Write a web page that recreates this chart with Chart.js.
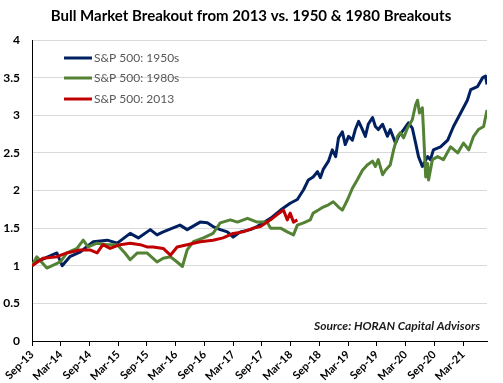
<!DOCTYPE html>
<html><head><meta charset="utf-8">
<script src="https://cdn.jsdelivr.net/npm/chart.js@4"></script>
<style>html,body{margin:0;padding:0;background:#fff}#wrap{width:503px;height:383px;position:relative}</style>
</head><body><div id="wrap"><canvas id="c"></canvas></div>
<script>
// x = months since Sep-13
const tickLabels = ["Sep-13","Mar-14","Sep-14","Mar-15","Sep-15","Mar-16","Sep-16","Mar-17","Sep-17","Mar-18","Sep-18","Mar-19","Sep-19","Mar-20","Sep-20","Mar-21"];
const seriesNames = ["S&P 500: 1950s","S&P 500: 1980s","S&P 500: 2013"];

const months1950 = [0,1.0,2.7,5.2,6.3,7.9,10.0,12.8,15.7,17.8,20.5,22.2,24.7,26.1,27.4,30.9,32.4,35.1,36.6,37.8,39.3,40.8,42.0,43.5,45.6,47.0,49.8,
  51.9,53.9,55.4,56.7,57.7,58.7,59.6,60.2,60.8,61.9,62.7,63.4,64.0,64.8,65.4,66.1,66.9,67.5,68.2,69.0,69.6,70.2,71.1,71.7,72.3,73.2,74.2,74.8,75.9,76.5,77.6,78.6,79.4,80.1,80.7,
  81.5,82.6,83.2,83.8,85.3,86.8,88.0,89.5,90.9,91.6,93.0,94.1,94.7,95.0];
const values1950 = [1.0,1.06,1.1,1.17,1.0,1.12,1.18,1.32,1.34,1.3,1.43,1.37,1.48,1.41,1.45,1.54,1.48,1.58,1.57,1.52,1.48,1.45,1.38,1.45,1.48,1.52,1.63,
  1.74,1.83,1.88,2.01,2.14,2.18,2.25,2.17,2.28,2.39,2.54,2.45,2.7,2.78,2.61,2.72,2.67,2.81,2.92,2.81,2.72,2.88,2.97,2.85,2.81,2.88,2.72,2.81,2.63,2.72,2.81,2.9,2.83,2.63,2.45,
  2.32,2.45,2.41,2.54,2.58,2.67,2.85,3.03,3.2,3.34,3.38,3.5,3.52,3.41];

const months1980 = [0,1.0,3.1,5.9,7.3,9.4,10.7,11.7,13.6,15.7,17.8,19.4,20.5,22.0,24.0,26.1,27.4,28.9,30.3,31.4,32.4,33.7,35.8,37.8,39.3,41.4,42.9,45.0,47.0,49.1,49.8,51.9,53.3,54.6,55.4,56.7,58.1,
  58.7,59.8,60.8,61.9,62.9,64.0,64.8,65.9,66.9,67.9,69.0,70.0,71.1,71.7,72.3,73.2,73.8,74.8,75.5,76.3,76.9,77.6,78.4,79.4,80.1,
  80.5,80.9,81.5,81.7,82.2,82.6,82.8,83.6,84.7,85.9,87.4,88.9,90.1,91.2,92.2,93.2,94.3,95.0];
const values1980 = [1.0,1.12,0.97,1.05,1.17,1.23,1.34,1.25,1.3,1.28,1.28,1.17,1.08,1.17,1.17,1.05,1.1,1.12,1.05,0.99,1.21,1.32,1.37,1.43,1.57,1.61,1.58,1.63,1.58,1.58,1.5,1.5,1.45,1.41,1.54,1.57,1.61,
  1.70,1.74,1.78,1.81,1.85,1.78,1.74,1.88,2.03,2.14,2.27,2.34,2.39,2.32,2.41,2.21,2.27,2.34,2.54,2.72,2.77,2.7,2.83,2.94,3.14,
  3.2,3.03,3.1,2.85,2.18,2.36,2.14,2.41,2.45,2.41,2.58,2.5,2.63,2.54,2.72,2.81,2.85,3.07];

const months2013 = [0,2.3,5.2,7.3,10.0,12.1,13.6,14.8,16.3,18.4,20.5,22.6,24.0,25.3,27.4,28.9,30.3,32.4,35.1,37.8,39.9,42.0,44.1,46.2,47.7,49.8,51.2,52.5,53.3,53.9,54.6,55.4];
const values2013 = [1.0,1.1,1.12,1.17,1.21,1.21,1.17,1.28,1.23,1.28,1.3,1.28,1.25,1.25,1.23,1.14,1.25,1.28,1.32,1.34,1.37,1.43,1.45,1.5,1.52,1.61,1.68,1.74,1.61,1.7,1.58,1.61];

const colors = ["#002060","#548235","#C00000"];
const toXY = (ms, vs) => ms.map((m, i) => ({x: m, y: vs[i]}));

const FONT = "Lato, 'Liberation Sans', sans-serif";

const overlay = {
  id: 'overlay',
  afterDraw(chart) {
    const ctx = chart.ctx;
    ctx.save();
    ctx.fillStyle = '#000';
    ctx.font = "bold 15px " + FONT;
    ctx.textAlign = 'center';
    ctx.textBaseline = 'middle';
    ctx.fillText("Bull Market Breakout from 2013 vs. 1950 & 1980 Breakouts", 251, 16);
    const ys = [58, 78, 99];
    ctx.font = "12px " + FONT;
    ctx.textAlign = 'left';
    seriesNames.forEach((n, i) => {
      ctx.strokeStyle = colors[i];
      ctx.lineWidth = 3;
      ctx.beginPath(); ctx.moveTo(64, ys[i]); ctx.lineTo(92, ys[i]); ctx.stroke();
      ctx.fillStyle = '#595959';
      ctx.fillText(n, 94, ys[i]);
    });
    ctx.font = "italic bold 12px " + FONT;
    ctx.textAlign = 'right';
    ctx.fillStyle = '#1a1a1a';
    ctx.fillText("Source: HORAN Capital Advisors", 480, 326);
    ctx.restore();
  }
};

new Chart(document.getElementById('c'), {
  type: 'line',
  data: {
    datasets: [
      {label: seriesNames[2], data: toXY(months2013, values2013), borderColor: colors[2], order: 0},
      {label: seriesNames[1], data: toXY(months1980, values1980), borderColor: colors[1], order: 1},
      {label: seriesNames[0], data: toXY(months1950, values1950), borderColor: colors[0], order: 2}
    ].map(d => Object.assign(d, {borderWidth: 3, pointRadius: 0, tension: 0, fill: false, borderJoinStyle: 'round'}))
  },
  options: {
    responsive: true, maintainAspectRatio: false, animation: false,
    layout: {padding: {top: 40, right: 16, left: 0, bottom: 0}},
    plugins: {legend: {display: false}, tooltip: {enabled: false}, title: {display: false}},
    scales: {
      x: {
        type: 'linear', min: 0, max: 95,
        afterFit(s) { s.height = 42; },
        grid: {drawOnChartArea: false, drawTicks: true, tickLength: 5, color: '#000'},
        border: {color: '#000', width: 1},
        ticks: {stepSize: 6, includeBounds: false, autoSkip: false, maxRotation: 45, minRotation: 45,
          color: '#000', font: {family: FONT, size: 11, weight: 'bold'}, padding: 2,
          callback: (v, i) => tickLabels[i]}
      },
      y: {
        min: 0, max: 4,
        afterFit(s) { s.width = 32; },
        grid: {drawTicks: false, color: ctx => ctx.tick && ctx.tick.value === 0 ? 'rgba(0,0,0,0)' : '#d9d9d9'},
        border: {color: '#000', width: 1},
        ticks: {stepSize: 0.5, padding: 12, color: '#000', font: {family: FONT, size: 12, weight: 'bold'},
          callback: v => String(v)}
      }
    }
  },
  plugins: [overlay]
});
</script></body></html>
